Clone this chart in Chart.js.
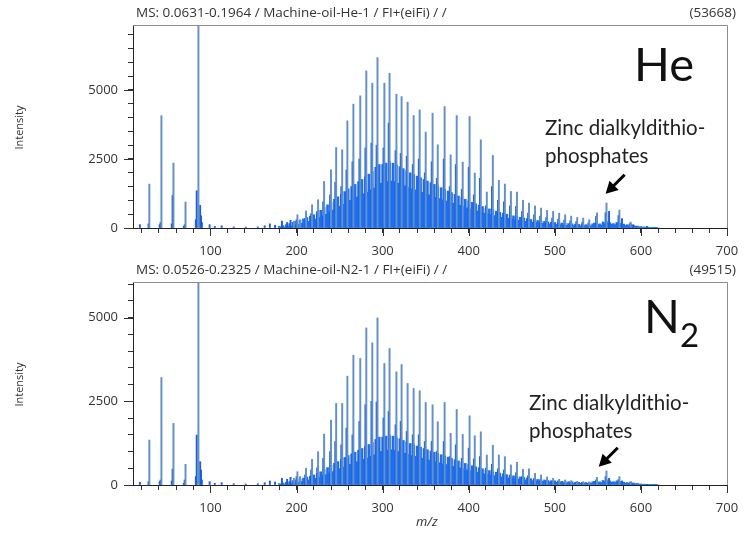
<!DOCTYPE html>
<html>
<head>
<meta charset="utf-8">
<script src="https://cdn.jsdelivr.net/npm/chart.js@4.4.1/dist/chart.umd.min.js"></script>
<style>
  body { margin: 0; background: #fff; width: 750px; height: 537px; position: relative; overflow: hidden; font-family: "Open Sans", sans-serif; }
  canvas { position: absolute; left: 0; }
  .titulo { position: absolute; font-size: 13.5px; color: #333; white-space: nowrap; }
  .eixo-y { position: absolute; font-size: 11px; color: #333; transform: rotate(-90deg); transform-origin: center; width: 80px; text-align: center; }
  .gas { position: absolute; font-family: Lato, sans-serif; font-size: 47px; color: #111; line-height: 1; }
  .gas sub { font-size: 33px; vertical-align: -14px; }
  .nota { position: absolute; font-family: Lato, sans-serif; font-size: 20.5px; color: #222; line-height: 28px; white-space: nowrap; }
</style>
</head>
<body>
<canvas id="grafico-he" width="750" height="262" style="top:0"></canvas>
<canvas id="grafico-n2" width="750" height="262" style="top:257px"></canvas>

<div class="titulo" style="left:136px; top:3px">MS: 0.0631-0.1964 / Machine-oil-He-1 / FI+(eiFi) / /</div>
<div class="titulo" style="right:14px; top:3px">(53668)</div>
<div class="titulo" style="left:136px; top:260px">MS: 0.0526-0.2325 / Machine-oil-N2-1 / FI+(eiFi) / /</div>
<div class="titulo" style="right:14px; top:260px">(49515)</div>

<div class="eixo-y" style="left:-22px; top:120px">Intensity</div>
<div class="eixo-y" style="left:-22px; top:377px">Intensity</div>
<div class="titulo" style="left:416px; top:512px; font-style:italic; font-size:13px">m/z</div>

<div class="gas" style="left:634px; top:40px">He</div>
<div class="gas" style="left:644px; top:292px">N<sub>2</sub></div>

<div class="nota" style="left:545px; top:113px">Zinc dialkyldithio-<br>phosphates</div>
<div class="nota" style="left:529px; top:388px">Zinc dialkyldithio-<br>phosphates</div>

<script>
// picos principais (serie de 7 em 7 Da)
const mzPrincipais = [29, 43, 57, 71, 86, 197, 201, 204, 211, 218, 225, 232, 240, 246, 253, 259, 266, 274, 281, 288,
  294, 302, 308, 316, 322, 329, 336, 343, 350, 358, 364, 372, 379, 386, 393, 401, 407, 414, 421, 428,
  435, 442, 449, 456, 463, 470, 477, 484, 491, 498, 505, 512, 519, 526, 533, 540, 549, 560, 575, 588];
const hePrincipais = [1590, 4070, 2350, 940, 53668, 250, 480, 300, 620, 843, 1024, 1687, 2110, 2917, 2833, 3882, 4486, 4788, 5691, 5246,
  6173, 5246, 5608, 4848, 4762, 4559, 4075, 4280, 3473, 4161, 3015, 4400, 2652, 4075, 2388, 4039, 1990, 3196, 1303, 2628,
  1723, 1592, 1326, 1303, 1000, 900, 800, 723, 640, 600, 540, 480, 430, 380, 360, 300, 550, 905, 650, 217];
const n2Principais = [1342, 3212, 1840, 616, 49515, 200, 398, 250, 500, 766, 994, 1521, 1939, 2436, 2436, 3251, 3878, 3779, 4693, 4246,
  4991, 3630, 4077, 3381, 3600, 3033, 2884, 2814, 2466, 2396, 1889, 2466, 1541, 2257, 1511, 2068, 1472, 1591, 895, 1190,
  895, 845, 600, 680, 470, 480, 350, 300, 240, 200, 170, 150, 130, 110, 100, 90, 230, 420, 250, 70];

// picos vizinhos e pequenos picos
const mzVizinhos = [18, 28, 41, 42, 55, 56, 69, 70, 83, 84, 88, 89, 90, 99, 105, 113, 127, 141, 155, 163,
  169, 175, 183, 189, 193, 200, 210, 217, 224, 231, 239, 245, 252, 258, 265, 273, 280, 287, 293, 301,
  307, 315, 321, 328, 335, 342, 349, 357, 363, 371, 378, 385, 392, 400, 406, 413, 420, 427, 434, 441,
  448, 455, 462, 469, 476, 483, 490, 497, 504, 511, 518, 525, 532, 539, 548, 559, 563, 574, 578, 587, 591, 607];
const heVizinhos = [120, 150, 120, 200, 150, 1180, 60, 120, 300, 1350, 820, 445, 200, 120, 60, 80, 40, 30, 40, 80,
  150, 100, 250, 200, 280, 300, 350, 520, 600, 950, 1200, 1650, 1500, 2100, 2400, 2500, 2900, 3075, 3000, 2900,
  3800, 2800, 2700, 2600, 2300, 2500, 2000, 2400, 1800, 2500, 1500, 2300, 1400, 2200, 1200, 1800, 800, 1500, 1000, 950,
  800, 780, 600, 540, 480, 430, 380, 360, 320, 290, 260, 230, 210, 180, 420, 560, 600, 450, 340, 150, 120, 60];
const n2Vizinhos = [80, 100, 100, 150, 120, 477, 50, 150, 250, 1491, 696, 447, 150, 100, 50, 70, 40, 30, 40, 70,
  120, 90, 200, 170, 230, 250, 300, 450, 520, 800, 1000, 1300, 1200, 1700, 1500, 1900, 2400, 2500, 2480, 2000,
  2200, 1800, 1900, 1600, 1500, 1500, 1300, 1300, 1000, 1300, 850, 1200, 800, 1100, 780, 850, 500, 620, 480, 450,
  300, 370, 250, 280, 190, 160, 130, 110, 95, 85, 75, 65, 60, 55, 150, 250, 200, 160, 120, 40, 30, 20];

// fundo continuo, m/z 180 a 620 de 2 em 2
const mzFundoInicio = 180;
const heFundo = [60, 30, 90, 40, 120, 60, 160, 80, 210, 120,
  240, 140, 280, 170, 330, 210, 380, 240, 430, 280,
  480, 320, 560, 380, 640, 440, 740, 500, 840, 580,
  940, 650, 1040, 720, 1130, 790, 1220, 860, 1320, 930,
  1420, 1000, 1500, 1060, 1580, 1120, 1680, 1180, 1760, 1240,
  1850, 1300, 1950, 1380, 2050, 1450, 2200, 1550, 2300, 1620,
  2300, 1650, 2350, 1680, 2400, 1700, 2350, 1680, 2280, 1620,
  2220, 1580, 2150, 1530, 2080, 1480, 2000, 1420, 1940, 1380,
  1880, 1330, 1820, 1290, 1760, 1240, 1700, 1200, 1640, 1150,
  1580, 1110, 1520, 1070, 1460, 1020, 1400, 980, 1340, 940,
  1280, 900, 1220, 860, 1160, 820, 1100, 780, 1040, 730,
  980, 690, 930, 650, 880, 610, 830, 580, 780, 540,
  730, 510, 690, 480, 650, 450, 610, 420, 570, 390,
  540, 370, 500, 350, 470, 330, 440, 300, 410, 280,
  390, 260, 360, 240, 340, 220, 310, 210, 290, 190,
  270, 180, 250, 170, 240, 160, 220, 150, 210, 140,
  200, 130, 190, 120, 180, 110, 170, 100, 160, 100,
  150, 90, 140, 90, 130, 80, 130, 80, 120, 80,
  120, 80, 150, 180, 170, 120, 150, 110, 220, 160,
  240, 170, 190, 130, 160, 120, 200, 140, 170, 110,
  140, 90, 120, 80, 150, 100, 90, 60, 70, 40,
  50, 30, 40, 20, 30, 20, 20, 10, 10, 10, 0];
const n2Fundo = [40, 20, 60, 25, 80, 40, 100, 50, 130, 75,
  150, 90, 175, 105, 205, 130, 235, 150, 265, 175,
  300, 200, 345, 235, 395, 275, 460, 310, 520, 360,
  580, 400, 645, 445, 700, 490, 755, 535, 820, 575,
  880, 620, 930, 660, 980, 695, 1040, 730, 1090, 770,
  1150, 805, 1210, 855, 1270, 900, 1360, 960, 1430, 1000,
  1430, 1020, 1460, 1040, 1490, 1055, 1460, 1040, 1410, 1000,
  1380, 980, 1330, 950, 1290, 920, 1240, 880, 1200, 855,
  1165, 825, 1130, 800, 1090, 770, 1055, 745, 1015, 715,
  980, 690, 940, 665, 905, 630, 870, 610, 830, 585,
  795, 560, 755, 535, 720, 510, 680, 485, 645, 455,
  610, 430, 575, 400, 545, 380, 515, 360, 485, 335,
  450, 315, 430, 300, 400, 280, 380, 260, 355, 240,
  335, 230, 310, 215, 290, 205, 275, 185, 255, 175,
  240, 160, 225, 150, 210, 135, 190, 130, 180, 120,
  165, 110, 155, 105, 150, 100, 135, 95, 130, 85,
  125, 80, 120, 75, 110, 70, 105, 60, 100, 60,
  95, 55, 85, 55, 80, 50, 80, 50, 75, 50,
  75, 50, 95, 110, 105, 75, 95, 70, 135, 100,
  150, 105, 120, 80, 100, 75, 125, 85, 105, 70,
  85, 55, 75, 50, 95, 60, 55, 35, 45, 25,
  30, 20, 25, 12, 20, 12, 12, 6, 6, 6, 0];

const ticksX = [100, 200, 300, 400, 500, 600, 700];
const ticksY = [0, 2500, 5000];
const passoMenorX = 20;
const passoMenorY = 500;

const corPrincipal = '#6390c8';
const corVizinho = '#1d5fd6';
const corFundo = '#1a6ff2';

function pontos(mz, valores) {
  return valores.map((v, i) => ({ x: mz[i], y: v }));
}

function pontosFundo(valores) {
  return valores.map((v, i) => ({ x: mzFundoInicio + 2 * i, y: v }));
}

function ticksMenores(ini, fim, passo) {
  let lista = [];
  for (let v = ini; v <= fim; v += passo) {
    lista.push({ value: v });
  }
  return lista;
}

const moldura = {
  id: 'moldura',
  afterDatasetsDraw(chart) {
    const { ctx, chartArea: a, scales } = chart;
    ctx.save();
    ctx.strokeStyle = '#8c8c8c';
    ctx.lineWidth = 1;
    ctx.beginPath();
    ctx.moveTo(a.left, a.top + 0.5);
    ctx.lineTo(a.right + 0.5, a.top + 0.5);
    ctx.lineTo(a.right + 0.5, a.bottom);
    ctx.stroke();
    // ticks maiores
    ctx.strokeStyle = '#333';
    ctx.beginPath();
    ticksX.forEach((v) => {
      const x = Math.round(scales.x.getPixelForValue(v)) + 0.5;
      ctx.moveTo(x, a.bottom);
      ctx.lineTo(x, a.bottom + 8);
    });
    ticksY.forEach((v) => {
      const y = Math.round(scales.y.getPixelForValue(v)) + 0.5;
      ctx.moveTo(a.left - 9, y);
      ctx.lineTo(a.left, y);
    });
    ctx.stroke();
    ctx.restore();

    // seta
    const s = chart.options.plugins.seta;
    const px = scales.x.getPixelForValue(s.mz);
    const py = scales.y.getPixelForValue(s.y);
    ctx.save();
    ctx.strokeStyle = '#000';
    ctx.fillStyle = '#000';
    ctx.lineWidth = 3;
    ctx.beginPath();
    ctx.moveTo(px + 19, py - 19);
    ctx.lineTo(px + 7, py - 7);
    ctx.stroke();
    ctx.translate(px, py);
    ctx.rotate(-Math.PI / 4);
    ctx.beginPath();
    ctx.moveTo(0, 0);
    ctx.lineTo(12, -6.5);
    ctx.lineTo(12, 6.5);
    ctx.closePath();
    ctx.fill();
    ctx.restore();
  },
};

function criarGrafico(id, principais, vizinhos, fundo, yMax, seta) {
  const fonteTicks = { family: 'Open Sans', size: 13 };
  return new Chart(document.getElementById(id).getContext('2d'), {
    type: 'bar',
    data: {
      datasets: [
        { data: pontos(mzPrincipais, principais), backgroundColor: corPrincipal, barThickness: 1.3, grouped: false, clip: 0 },
        { data: pontos(mzVizinhos, vizinhos), backgroundColor: corVizinho, barThickness: 1.3, grouped: false, clip: 0 },
        { data: pontosFundo(fundo), backgroundColor: corFundo, barThickness: 2, grouped: false, clip: 0 },
      ],
    },
    options: {
      responsive: false,
      animation: false,
      devicePixelRatio: 1,
      layout: { padding: { top: 25, right: 23, left: 0, bottom: 0 } },
      plugins: { legend: { display: false }, tooltip: { enabled: false }, seta: seta },
      scales: {
        x: {
          type: 'linear',
          min: 10,
          max: 700,
          offset: false,
          afterFit: (s) => { s.height = 34; },
          afterBuildTicks: (s) => { s.ticks = ticksMenores(20, 700, passoMenorX); },
          ticks: {
            autoSkip: false,
            maxRotation: 0,
            padding: 10,
            color: '#333',
            font: fonteTicks,
            callback: (v) => (ticksX.includes(v) ? String(v) : ''),
          },
          grid: { drawOnChartArea: false, offset: false, tickLength: 5, tickColor: '#333' },
          border: { color: '#222' },
        },
        y: {
          min: 0,
          max: yMax,
          afterFit: (s) => { s.width = 133; },
          afterBuildTicks: (s) => { s.ticks = ticksMenores(0, yMax, passoMenorY); },
          ticks: {
            autoSkip: false,
            padding: 10,
            color: '#333',
            font: fonteTicks,
            callback: (v) => (ticksY.includes(v) ? String(v) : ''),
          },
          grid: { drawOnChartArea: false, tickLength: 5, tickColor: '#333' },
          border: { color: '#222' },
        },
      },
    },
    plugins: [moldura],
  });
}

criarGrafico('grafico-he', hePrincipais, heVizinhos, heFundo, 7355, { mz: 559, y: 1240 });
criarGrafico('grafico-n2', n2Principais, n2Vizinhos, n2Fundo, 6065, { mz: 551, y: 546 });
</script>
</body>
</html>
